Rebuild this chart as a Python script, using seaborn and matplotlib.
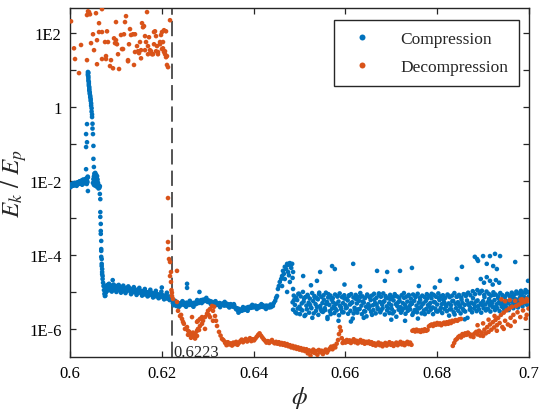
import numpy as np
import pandas as pd
import matplotlib
matplotlib.use("Agg")
import matplotlib.pyplot as plt
import seaborn as sns
from matplotlib.ticker import FixedLocator, FixedFormatter

# ---------------- data: (phi, log10(Ek/Ep)) ----------------
comp_plateau = [
    (0.6000, -2.14), (0.6001, -2.12), (0.6002, -2.15), (0.6003, -2.11), (0.6004, -2.13), (0.6005, -2.10),
    (0.6006, -2.12), (0.6007, -2.09), (0.6008, -2.11), (0.6009, -2.08), (0.6010, -2.10), (0.6011, -2.07),
    (0.6012, -2.09), (0.6013, -2.06), (0.6014, -2.10), (0.6015, -2.05), (0.6016, -2.08), (0.6017, -2.04),
    (0.6018, -2.07), (0.6019, -2.03), (0.6020, -2.06), (0.6021, -2.02), (0.6022, -2.05), (0.6023, -2.04),
    (0.6024, -2.01), (0.6025, -2.06), (0.6026, -2.00), (0.6027, -2.03), (0.6028, -1.98), (0.6029, -2.04),
    (0.6030, -2.01), (0.6031, -1.97), (0.6032, -2.05), (0.6033, -1.99), (0.6034, -1.95), (0.6035, -2.02),
    (0.6036, -1.93), (0.6037, -1.99), (0.6038, -2.03), (0.6039, -1.90),
    (0.60005, -2.17), (0.60025, -2.09), (0.60045, -2.13), (0.60065, -2.06), (0.60085, -2.12), (0.60105, -2.05),
    (0.60125, -2.09), (0.60145, -2.13), (0.60165, -2.04), (0.60185, -2.08), (0.60205, -2.01), (0.60225, -2.07),
    (0.60245, -1.99), (0.60265, -2.10), (0.60285, -1.96), (0.60305, -2.06), (0.60325, -2.02), (0.60345, -1.94),
    (0.60365, -2.08), (0.60385, -1.88), (0.6035, -1.68), (0.6039, -2.27),
]
comp_spike = [
    (0.6035, -1.08), (0.6037, -0.95), (0.6035, -0.73), (0.6037, -0.46), (0.6039, 0.95), (0.6039, 0.90),
    (0.6039, 0.86), (0.6040, 0.93), (0.6040, 0.83), (0.6040, 0.78), (0.6040, 0.72), (0.6041, 0.68),
    (0.6041, 0.63), (0.6041, 0.58), (0.6042, 0.54), (0.6042, 0.49), (0.6042, 0.45), (0.6043, 0.40),
    (0.6043, 0.36), (0.6044, 0.31), (0.6044, 0.27), (0.6045, 0.22), (0.6045, 0.17), (0.6046, 0.10),
    (0.6046, 0.04), (0.6047, -0.03), (0.6047, -0.12), (0.6048, -0.20), (0.6048, -0.27), (0.6049, -0.45),
    (0.6049, -0.58), (0.6050, -0.73), (0.6051, -1.05), (0.6051, -1.40), (0.6052, -1.62),
]
comp_shoulder = [
    (0.6050, -2.05), (0.6051, -1.95), (0.6052, -1.88), (0.6052, -2.10), (0.6053, -1.80), (0.6053, -2.00),
    (0.6054, -1.85), (0.6054, -2.12), (0.6055, -1.78), (0.6055, -1.95), (0.6056, -1.90), (0.6056, -2.05),
    (0.6057, -1.83), (0.6057, -2.00), (0.6058, -1.92), (0.6058, -2.15), (0.6059, -1.87), (0.6059, -2.02),
    (0.6060, -1.96), (0.6060, -2.10), (0.6061, -2.05), (0.6062, -2.20), (0.6063, -2.12), (0.6064, -2.18),
]
comp_drop = [
    (0.6065, -2.14), (0.6065, -2.35), (0.6066, -2.49), (0.6066, -2.84), (0.6066, -2.97), (0.6067, -3.16),
    (0.6067, -3.35), (0.6067, -3.43), (0.6068, -3.62), (0.6068, -3.84), (0.6068, -3.89), (0.6068, -4.05),
    (0.6069, -4.11), (0.6069, -4.24), (0.6069, -4.30), (0.6070, -4.38), (0.6070, -4.46), (0.6070, -4.52),
    (0.6071, -4.57), (0.6071, -4.65), (0.6072, -4.75), (0.6073, -4.84), (0.6074, -4.95), (0.6075, -5.05),
    (0.6076, -5.11),
]
comp_low_plateau = [
    (0.6077, -5.10), (0.6078, -5.02), (0.6079, -4.90), (0.6080, -4.82), (0.6081, -4.86), (0.6082, -4.93),
    (0.6083, -4.80), (0.6084, -4.88), (0.6085, -4.84), (0.6086, -4.95), (0.6087, -4.87), (0.6088, -4.82),
    (0.6089, -4.90), (0.6090, -4.85), (0.6092, -4.92), (0.6093, -4.68), (0.6094, -4.88), (0.6096, -4.83),
    (0.6097, -4.94), (0.6099, -4.86), (0.6100, -4.90), (0.6102, -4.84), (0.6103, -4.96), (0.6105, -4.88),
    (0.6107, -4.92), (0.6108, -4.86), (0.6110, -4.95), (0.6112, -4.89), (0.6113, -4.93), (0.6115, -4.87),
    (0.6117, -4.98), (0.6119, -4.90), (0.6120, -4.94), (0.6122, -4.89), (0.6124, -4.97), (0.6126, -4.91),
    (0.6128, -4.95), (0.6130, -4.90), (0.6132, -5.00), (0.6134, -4.93), (0.6136, -4.97), (0.6138, -4.92),
    (0.6140, -5.01), (0.6142, -4.95), (0.6144, -4.99), (0.6146, -4.94), (0.6148, -5.03), (0.6150, -4.96),
    (0.6152, -5.01), (0.6154, -4.97), (0.6156, -5.05), (0.6158, -4.98), (0.6160, -5.03), (0.6162, -4.99),
    (0.6164, -5.07), (0.6166, -5.00), (0.6168, -5.05), (0.6170, -5.01), (0.6172, -5.09), (0.6174, -5.03),
    (0.6176, -5.07), (0.6178, -5.02), (0.6180, -5.10), (0.6182, -5.04), (0.6184, -5.09), (0.6186, -5.05),
    (0.6188, -5.12), (0.6190, -5.06), (0.6192, -5.10), (0.6194, -5.07), (0.6196, -5.14), (0.6198, -5.08),
    (0.6200, -5.12), (0.6202, -5.09), (0.6204, -5.16), (0.6206, -5.10), (0.6208, -5.14), (0.6210, -5.11),
    (0.6212, -5.18), (0.6214, -5.12), (0.6216, -5.16), (0.6218, -5.13), (0.6220, -5.20), (0.6222, -5.15),
    (0.6081, -4.97), (0.6085, -4.78), (0.6091, -4.99), (0.6095, -4.80), (0.6101, -5.00), (0.6106, -4.81),
    (0.6111, -5.02), (0.6116, -4.83), (0.6121, -5.03), (0.6127, -4.85), (0.6133, -5.06), (0.6139, -4.87),
    (0.6145, -5.08), (0.6151, -4.89), (0.6157, -5.10), (0.6163, -4.92), (0.6169, -5.12), (0.6175, -4.94),
    (0.6181, -5.15), (0.6187, -4.97), (0.6193, -5.17), (0.6199, -4.99), (0.6205, -5.20), (0.6211, -5.02),
    (0.6217, -5.22), (0.6200, -4.88),
]
comp_mid = [
    (0.6224, -5.30), (0.6226, -5.36), (0.6228, -5.28), (0.6230, -5.33), (0.6232, -5.38), (0.6234, -5.29),
    (0.6236, -5.34), (0.6238, -5.31), (0.6240, -5.37), (0.6242, -5.30), (0.6244, -5.33), (0.6246, -5.28),
    (0.6248, -5.35), (0.6250, -5.31), (0.6252, -5.36), (0.6254, -5.29), (0.6256, -5.33), (0.6258, -5.30),
    (0.6260, -5.35), (0.6262, -5.28), (0.6264, -5.32), (0.6266, -5.36), (0.6268, -5.30), (0.6270, -5.34),
    (0.6272, -5.29), (0.6274, -5.33), (0.6276, -5.31), (0.6278, -5.27), (0.6280, -5.30), (0.6282, -5.24),
    (0.6284, -5.27), (0.6286, -5.22), (0.6288, -5.26), (0.6290, -5.21), (0.6292, -5.25), (0.6294, -5.20),
    (0.6296, -5.24), (0.6298, -5.22), (0.6300, -5.27), (0.6302, -5.23), (0.6304, -5.28), (0.6306, -5.25),
    (0.6308, -5.30), (0.6310, -5.27), (0.6312, -5.32), (0.6314, -5.29), (0.6316, -5.33), (0.6318, -5.30),
    (0.6320, -5.35), (0.6322, -5.31), (0.6324, -5.34), (0.6326, -5.30), (0.6328, -5.36), (0.6330, -5.32),
    (0.6332, -5.35), (0.6334, -5.31), (0.6336, -5.37), (0.6338, -5.33), (0.6340, -5.36), (0.6342, -5.32),
    (0.6344, -5.38), (0.6346, -5.34), (0.6348, -5.37), (0.6350, -5.33), (0.6352, -5.39), (0.6354, -5.36),
    (0.6356, -5.40), (0.6358, -5.37), (0.6360, -5.43), (0.6362, -5.47), (0.6364, -5.44), (0.6366, -5.50),
    (0.6368, -5.46), (0.6370, -5.52), (0.6372, -5.48), (0.6374, -5.51), (0.6376, -5.46), (0.6378, -5.49),
    (0.6380, -5.45), (0.6382, -5.48), (0.6384, -5.43), (0.6386, -5.46), (0.6388, -5.41), (0.6390, -5.44),
    (0.6392, -5.40), (0.6394, -5.43), (0.6396, -5.39), (0.6398, -5.42), (0.6400, -5.38), (0.6402, -5.41),
    (0.6404, -5.37), (0.6406, -5.42), (0.6408, -5.39), (0.6410, -5.43), (0.6412, -5.38), (0.6414, -5.41),
    (0.6416, -5.37), (0.6418, -5.40), (0.6420, -5.36), (0.6422, -5.41), (0.6424, -5.38), (0.6426, -5.42),
    (0.6428, -5.37), (0.6430, -5.40), (0.6432, -5.38), (0.6434, -5.42), (0.6436, -5.39), (0.6438, -5.41),
    (0.6440, -5.37), (0.6255, -4.78), (0.6255, -4.89), (0.6282, -5.00),
    (0.6229, -5.24), (0.6237, -5.41), (0.6245, -5.25), (0.6253, -5.40), (0.6261, -5.24), (0.6269, -5.40),
    (0.6277, -5.22), (0.6287, -5.30), (0.6297, -5.16), (0.6307, -5.33), (0.6317, -5.25), (0.6327, -5.41),
    (0.6337, -5.27), (0.6347, -5.42), (0.6357, -5.33), (0.6367, -5.56), (0.6377, -5.41), (0.6387, -5.51),
    (0.6397, -5.35), (0.6407, -5.46), (0.6417, -5.33), (0.6427, -5.46), (0.6437, -5.34),
]
comp_bump = [
    (0.6442, -5.38), (0.6447, -5.24), (0.6451, -5.11), (0.6453, -4.92), (0.6457, -4.73), (0.6462, -4.57),
    (0.6464, -4.43), (0.6468, -4.32), (0.6473, -4.24), (0.6479, -4.22), (0.6484, -4.24), (0.6486, -4.46),
    (0.6486, -4.92), (0.6462, -4.84), (0.6468, -4.65), (0.6475, -4.46), (0.6479, -4.73), (0.6473, -5.00),
    (0.6475, -4.27), (0.6477, -4.24), (0.6481, -4.27), (0.6471, -4.38), (0.6466, -4.51), (0.6460, -4.65),
    (0.6455, -4.84), (0.6449, -5.16), (0.6444, -5.30), (0.6482, -4.35), (0.6477, -4.55), (0.6485, -4.62),
]
comp_band_a = [
    (0.6485, -5.28), (0.6490, -5.35), (0.6495, -5.22), (0.6500, -5.40), (0.6505, -5.31), (0.6510, -5.18),
    (0.6515, -5.37), (0.6520, -5.29), (0.6525, -5.42), (0.6530, -5.25), (0.6535, -5.33), (0.6540, -5.20),
    (0.6545, -5.38), (0.6550, -5.30), (0.6555, -5.44), (0.6560, -5.27), (0.6565, -5.35), (0.6570, -5.21),
    (0.6575, -5.39), (0.6580, -5.32), (0.6585, -5.26), (0.6590, -5.41), (0.6595, -5.30), (0.6600, -5.36),
    (0.6605, -5.23), (0.6610, -5.34), (0.6615, -5.28), (0.6620, -5.43), (0.6625, -5.31), (0.6630, -5.24),
    (0.6635, -5.37), (0.6640, -5.29), (0.6645, -5.40), (0.6650, -5.33), (0.6655, -5.22), (0.6660, -5.36),
    (0.6665, -5.30), (0.6670, -5.42), (0.6675, -5.27), (0.6680, -5.34), (0.6685, -5.25), (0.6690, -5.39),
    (0.6695, -5.31), (0.6700, -5.36), (0.6705, -5.23), (0.6710, -5.33), (0.6715, -5.28), (0.6720, -5.41),
    (0.6725, -5.30), (0.6730, -5.35), (0.6735, -5.26), (0.6740, -5.38), (0.6745, -5.32), (0.6750, -5.24),
    (0.6755, -5.37), (0.6760, -5.29), (0.6765, -5.40), (0.6770, -5.31), (0.6775, -5.25), (0.6780, -5.36),
    (0.6785, -5.30), (0.6790, -5.42), (0.6795, -5.28), (0.6800, -5.34), (0.6805, -5.22), (0.6810, -5.33),
    (0.6815, -5.27), (0.6820, -5.39), (0.6825, -5.31), (0.6830, -5.36), (0.6835, -5.24), (0.6840, -5.32),
    (0.6845, -5.28), (0.6850, -5.40), (0.6855, -5.30), (0.6860, -5.35), (0.6865, -5.23), (0.6870, -5.37),
    (0.6875, -5.29), (0.6880, -5.33), (0.6885, -5.26), (0.6890, -5.38), (0.6895, -5.31), (0.6900, -5.25),
    (0.6905, -5.34), (0.6910, -5.28), (0.6915, -5.36), (0.6920, -5.30), (0.6925, -5.22), (0.6930, -5.33),
    (0.6935, -5.27), (0.6940, -5.35), (0.6945, -5.29), (0.6950, -5.24), (0.6955, -5.31), (0.6960, -5.21),
    (0.6965, -5.28), (0.6970, -5.19), (0.6975, -5.25), (0.6980, -5.16), (0.6985, -5.22), (0.6990, -5.14),
    (0.6995, -5.19), (0.7000, -5.12),
]
comp_band_b = [
    (0.64875, -5.10), (0.64925, -5.15), (0.64975, -5.05), (0.65025, -5.12), (0.65075, -5.00), (0.65125, -5.14),
    (0.65175, -5.08), (0.65225, -5.18), (0.65275, -5.03), (0.65325, -5.11), (0.65375, -5.16), (0.65425, -5.06),
    (0.65475, -5.13), (0.65525, -5.09), (0.65575, -5.02), (0.65625, -5.15), (0.65675, -5.10), (0.65725, -5.17),
    (0.65775, -5.07), (0.65825, -5.12), (0.65875, -5.04), (0.65925, -5.14), (0.65975, -5.09), (0.66025, -5.18),
    (0.66075, -5.11), (0.66125, -5.06), (0.66175, -5.15), (0.66225, -5.08), (0.66275, -5.13), (0.66325, -5.03),
    (0.66375, -5.12), (0.66425, -5.17), (0.66475, -5.07), (0.66525, -5.14), (0.66575, -5.10), (0.66625, -5.05),
    (0.66675, -5.16), (0.66725, -5.09), (0.66775, -5.13), (0.66825, -5.04), (0.66875, -5.11), (0.66925, -5.17),
    (0.66975, -5.08), (0.67025, -5.14), (0.67075, -5.06), (0.67125, -5.12), (0.67175, -5.16), (0.67225, -5.09),
    (0.67275, -5.03), (0.67325, -5.13), (0.67375, -5.10), (0.67425, -5.18), (0.67475, -5.07), (0.67525, -5.12),
    (0.67575, -5.05), (0.67625, -5.15), (0.67675, -5.10), (0.67725, -5.14), (0.67775, -5.06), (0.67825, -5.11),
    (0.67875, -5.17), (0.67925, -5.08), (0.67975, -5.13), (0.68025, -5.04), (0.68075, -5.12), (0.68125, -5.09),
    (0.68175, -5.16), (0.68225, -5.07), (0.68275, -5.14), (0.68325, -5.10), (0.68375, -5.03), (0.68425, -5.13),
    (0.68475, -5.08), (0.68525, -5.15), (0.68575, -5.06), (0.68625, -5.11), (0.68675, -5.02), (0.68725, -5.09),
    (0.68775, -4.98), (0.68825, -5.06), (0.68875, -4.95), (0.68925, -5.04), (0.68975, -4.97), (0.69025, -5.08),
    (0.69075, -4.99), (0.69125, -5.05), (0.69175, -5.10), (0.69225, -5.01), (0.69275, -5.07), (0.69325, -5.12),
    (0.69375, -5.03), (0.69425, -5.09), (0.69475, -5.14), (0.69525, -5.05), (0.69575, -5.11), (0.69625, -5.02),
    (0.69675, -5.08), (0.69725, -4.99), (0.69775, -5.04), (0.69825, -4.97), (0.69875, -5.02), (0.69925, -4.95),
    (0.69975, -5.00),
]
comp_band_c = [
    (0.6486, -5.48), (0.6491, -5.55), (0.6496, -5.45), (0.6501, -5.60), (0.6506, -5.50), (0.6511, -5.65),
    (0.6516, -5.47), (0.6521, -5.56), (0.6526, -5.44), (0.6531, -5.58), (0.6536, -5.51), (0.6541, -5.62),
    (0.6546, -5.46), (0.6551, -5.54), (0.6556, -5.49), (0.6561, -5.68), (0.6566, -5.52), (0.6571, -5.45),
    (0.6576, -5.57), (0.6581, -5.50), (0.6586, -5.63), (0.6591, -5.47), (0.6596, -5.55), (0.6601, -5.44),
    (0.6606, -5.59), (0.6611, -5.51), (0.6616, -5.72), (0.6621, -5.48), (0.6626, -5.56), (0.6631, -5.46),
    (0.6636, -5.60), (0.6641, -5.52), (0.6646, -5.66), (0.6651, -5.45), (0.6656, -5.54), (0.6661, -5.49),
    (0.6666, -5.58), (0.6671, -5.47), (0.6676, -5.55), (0.6681, -5.44), (0.6686, -5.61), (0.6691, -5.50),
    (0.6696, -5.57), (0.6701, -5.46), (0.6706, -5.53), (0.6711, -5.67), (0.6716, -5.48), (0.6721, -5.56),
    (0.6726, -5.45), (0.6731, -5.59), (0.6736, -5.51), (0.6741, -5.47), (0.6746, -5.62), (0.6751, -5.49),
    (0.6756, -5.55), (0.6761, -5.44), (0.6766, -5.58), (0.6771, -5.50), (0.6776, -5.46), (0.6781, -5.54),
    (0.6786, -5.48), (0.6791, -5.60), (0.6796, -5.45), (0.6801, -5.53), (0.6806, -5.49), (0.6811, -5.57),
    (0.6816, -5.46), (0.6821, -5.52), (0.6826, -5.64), (0.6831, -5.47), (0.6836, -5.55), (0.6841, -5.44),
    (0.6846, -5.51), (0.6851, -5.58), (0.6856, -5.46), (0.6861, -5.53), (0.6866, -5.70), (0.6871, -5.48),
    (0.6876, -5.55), (0.6881, -5.45), (0.6886, -5.52), (0.6891, -5.47), (0.6896, -5.56), (0.6901, -5.44),
    (0.6906, -5.50), (0.6911, -5.46), (0.6916, -5.53), (0.6921, -5.41), (0.6926, -5.49), (0.6931, -5.44),
    (0.6936, -5.52), (0.6941, -5.40), (0.6946, -5.47), (0.6951, -5.42), (0.6956, -5.49), (0.6961, -5.38),
    (0.6966, -5.44), (0.6971, -5.36), (0.6976, -5.42), (0.6981, -5.33), (0.6986, -5.39), (0.6991, -5.30),
    (0.6996, -5.35),
]
comp_band_d = [
    (0.6488, -5.22), (0.6494, -5.58), (0.6499, -5.05), (0.6503, -5.47), (0.6509, -5.26), (0.6513, -5.62),
    (0.6518, -5.12), (0.6523, -5.35), (0.6528, -5.70), (0.6533, -5.15), (0.6538, -5.41), (0.6543, -5.02),
    (0.6548, -5.52), (0.6553, -5.21), (0.6558, -5.33), (0.6563, -5.06), (0.6568, -5.60), (0.6573, -5.28),
    (0.6578, -5.45), (0.6583, -5.12), (0.6588, -5.37), (0.6593, -5.55), (0.6598, -5.18), (0.6603, -5.42),
    (0.6608, -5.09), (0.6613, -5.30), (0.6618, -5.58), (0.6623, -5.19), (0.6628, -5.47), (0.6633, -5.13),
    (0.6638, -5.26), (0.6643, -5.53), (0.6648, -5.10), (0.6653, -5.39), (0.6658, -5.62), (0.6663, -5.21),
    (0.6668, -5.34), (0.6673, -5.04), (0.6678, -5.49), (0.6683, -5.27), (0.6688, -5.15), (0.6693, -5.44),
    (0.6698, -5.20), (0.6703, -5.58), (0.6708, -5.11), (0.6713, -5.38), (0.6718, -5.24), (0.6723, -5.51),
    (0.6728, -5.16), (0.6733, -5.43), (0.6738, -5.08), (0.6743, -5.29), (0.6748, -5.56), (0.6753, -5.14),
    (0.6758, -5.45), (0.6763, -5.22), (0.6768, -5.33), (0.6773, -5.60), (0.6778, -5.18), (0.6783, -5.40),
    (0.6788, -5.05), (0.6793, -5.27), (0.6798, -5.52), (0.6803, -5.16), (0.6808, -5.43), (0.6813, -5.20),
    (0.6818, -5.34), (0.6823, -5.09), (0.6828, -5.47), (0.6833, -5.25), (0.6838, -5.61), (0.6843, -5.13),
    (0.6848, -5.36), (0.6853, -5.21), (0.6858, -5.50), (0.6863, -5.07), (0.6868, -5.31), (0.6873, -5.44),
    (0.6878, -5.17), (0.6883, -5.39), (0.6888, -5.23), (0.6893, -5.00), (0.6898, -5.35), (0.6903, -5.14),
    (0.6908, -5.46), (0.6913, -5.19), (0.6918, -5.27), (0.6923, -5.08), (0.6928, -5.40), (0.6933, -5.16),
    (0.6938, -5.30), (0.6943, -5.11), (0.6948, -5.37), (0.6953, -5.06), (0.6958, -5.25), (0.6963, -5.13),
    (0.6968, -5.32), (0.6973, -5.04), (0.6978, -5.21), (0.6983, -5.09), (0.6988, -5.27), (0.6993, -5.02),
    (0.6998, -5.17),
]
comp_outliers = [
    (0.6508, -4.57), (0.6538, -4.70), (0.6545, -4.46), (0.6571, -4.30), (0.6577, -4.38), (0.6617, -4.24),
    (0.6669, -4.43), (0.6686, -4.70), (0.6719, -4.43), (0.6745, -4.35), (0.6806, -4.70), (0.6854, -4.32),
    (0.6882, -4.05), (0.6900, -4.03), (0.6915, -4.03), (0.6937, -4.03), (0.6889, -4.16), (0.6908, -4.24),
    (0.6922, -4.30), (0.6930, -4.38), (0.6970, -4.19), (0.6998, -4.70), (0.6895, -4.65), (0.6902, -4.75),
    (0.6908, -4.60), (0.6915, -4.70), (0.6921, -4.80), (0.6928, -4.68), (0.6935, -4.75), (0.6691, -4.46),
    (0.6843, -4.65), (0.6887, -4.11), (0.6926, -3.97), (0.6598, -4.80), (0.6632, -4.85), (0.6525, -4.82),
    (0.6561, -5.73), (0.6585, -5.78), (0.6612, -5.80), (0.6640, -5.70), (0.6700, -5.75), (0.6730, -5.78),
    (0.6758, -5.72), (0.6860, -5.74), (0.6795, -4.88), (0.6760, -4.84),
]

decomp_high = [
    (0.60022, 2.32), (0.60087, 1.59), (0.60109, 1.30), (0.60196, 0.92), (0.60240, 1.68), (0.60370, 2.49),
    (0.60392, 2.59), (0.60436, 2.51), (0.60370, 1.27), (0.60458, 1.73), (0.60501, 1.97), (0.60523, 1.54),
    (0.60566, 2.54), (0.60588, 1.81), (0.60632, 2.03), (0.60588, 1.16), (0.60697, 2.03), (0.60697, 2.65),
    (0.60697, 1.30), (0.60763, 1.76), (0.60806, 2.05), (0.60828, 1.76), (0.60784, 1.38), (0.60784, 1.30),
    (0.60871, 1.11), (0.60937, 1.05), (0.60959, 1.86), (0.61002, 2.30), (0.61024, 1.70), (0.60980, 1.73),
    (0.61046, 1.43), (0.61068, 1.03), (0.61155, 1.57), (0.61176, 1.97), (0.61220, 2.46), (0.61198, 2.30),
    (0.61264, 1.24), (0.61285, 1.70), (0.61329, 1.95), (0.61373, 1.97), (0.61394, 1.14), (0.61416, 1.49),
    (0.61460, 1.65), (0.61481, 1.51), (0.61525, 1.76), (0.61547, 1.32), (0.61569, 2.27), (0.61612, 2.19),
    (0.61634, 1.92), (0.61678, 2.57), (0.61656, 1.76), (0.61699, 1.65), (0.61721, 1.89), (0.61765, 1.51),
    (0.61808, 1.43), (0.61830, 2.03), (0.61874, 1.92), (0.61895, 1.65), (0.61917, 1.49), (0.61961, 1.76),
    (0.62004, 2.03), (0.62026, 1.59), (0.62048, 1.49), (0.62092, 2.05), (0.62113, 1.38), (0.62113, 1.14),
    (0.62135, 1.08), (0.60414, 2.57), (0.60632, 2.27), (0.60893, 1.27), (0.61002, 1.81), (0.61111, 1.95),
    (0.61133, 1.57), (0.61264, 1.27), (0.61307, 2.11), (0.61416, 1.97), (0.61503, 1.46), (0.61547, 1.54),
    (0.61590, 2.16), (0.61634, 1.54), (0.61699, 1.43), (0.61743, 1.54), (0.61786, 1.43), (0.61830, 1.70),
    (0.61852, 2.05), (0.61874, 1.51), (0.61917, 1.43), (0.61961, 1.70), (0.61983, 1.95), (0.62004, 1.57),
    (0.62026, 1.76), (0.62048, 2.08), (0.62070, 1.51), (0.62070, 1.43), (0.62092, 1.35), (0.62179, 2.35),
]
decomp_drop = [
    (0.62135, -2.46), (0.62135, -3.65), (0.62135, -3.84), (0.62157, -4.11), (0.62179, -4.19), (0.62200, -4.46),
    (0.62179, -4.57), (0.62200, -4.73), (0.62210, -4.95), (0.62220, -5.02), (0.62222, -5.11), (0.62244, -5.19),
    (0.62331, -4.43),
]
decomp_dip = [
    (0.62331, -5.27), (0.62353, -5.51), (0.62397, -5.65), (0.62440, -5.73), (0.62462, -5.81), (0.62549, -5.95),
    (0.62571, -6.05), (0.62614, -6.14), (0.62658, -6.19), (0.62680, -6.19), (0.62723, -6.14), (0.62767, -6.05),
    (0.62789, -6.00), (0.62832, -5.92), (0.62876, -5.86), (0.62898, -5.78), (0.62941, -5.68), (0.62985, -5.59),
    (0.63007, -5.51), (0.63050, -5.46), (0.63094, -5.38), (0.63115, -5.51), (0.63159, -5.65), (0.63181, -5.78),
    (0.63203, -5.92), (0.63246, -6.08), (0.63312, -6.27), (0.63377, -6.35), (0.62789, -5.78), (0.62876, -5.68),
    (0.62941, -6.00), (0.63050, -5.68), (0.63115, -5.78), (0.62767, -6.19), (0.62658, -5.68), (0.62767, -5.81),
    (0.62832, -5.73), (0.62505, -6.00), (0.62571, -6.16), (0.62636, -6.24), (0.62700, -6.22), (0.62745, -6.17),
    (0.62600, -6.08), (0.62680, -6.10), (0.62725, -6.26), (0.62810, -6.03), (0.62420, -5.62), (0.62480, -5.86),
    (0.63140, -5.40), (0.63020, -5.62), (0.63280, -6.18), (0.63340, -6.30),
]
decomp_low = [
    (0.6338, -6.38), (0.6341, -6.44), (0.6344, -6.36), (0.6347, -6.42), (0.6350, -6.39), (0.6353, -6.45),
    (0.6356, -6.37), (0.6359, -6.41), (0.6362, -6.35), (0.6365, -6.43), (0.6368, -6.38), (0.6371, -6.33),
    (0.6374, -6.29), (0.6377, -6.36), (0.6380, -6.31), (0.6383, -6.27), (0.6386, -6.34), (0.6389, -6.30),
    (0.6392, -6.25), (0.6395, -6.33), (0.6398, -6.28), (0.6401, -6.31), (0.6404, -6.26), (0.6407, -6.21),
    (0.6410, -6.16), (0.6413, -6.12), (0.6416, -6.18), (0.6419, -6.23), (0.6422, -6.28), (0.6425, -6.32),
    (0.6428, -6.37), (0.6431, -6.33), (0.6434, -6.38), (0.6437, -6.34), (0.6440, -6.30), (0.6443, -6.36),
    (0.6446, -6.39), (0.6449, -6.35), (0.6452, -6.40), (0.6455, -6.36), (0.6458, -6.42), (0.6461, -6.38),
    (0.6464, -6.43), (0.6467, -6.39), (0.6470, -6.45), (0.6473, -6.41), (0.6476, -6.47), (0.6479, -6.44),
    (0.6482, -6.50), (0.6485, -6.46), (0.6488, -6.52), (0.6491, -6.48), (0.6494, -6.54), (0.6497, -6.50),
    (0.6500, -6.56), (0.6503, -6.52), (0.6506, -6.58), (0.6509, -6.54), (0.6512, -6.60), (0.6515, -6.55),
    (0.6518, -6.66), (0.6521, -6.58), (0.6524, -6.72), (0.6527, -6.62), (0.6530, -6.56), (0.6533, -6.65),
    (0.6536, -6.60), (0.6539, -6.70), (0.6542, -6.57), (0.6545, -6.63), (0.6548, -6.59), (0.6551, -6.68),
    (0.6554, -6.61), (0.6557, -6.56), (0.6560, -6.64), (0.6563, -6.58), (0.6566, -6.53), (0.6569, -6.48),
    (0.6572, -6.55), (0.6575, -6.46), (0.6578, -6.50), (0.6581, -6.40), (0.6584, -6.30), (0.6586, -6.14),
    (0.6588, -5.95), (0.6590, -6.05), (0.6592, -6.25), (0.6594, -6.38), (0.6597, -6.33), (0.6600, -6.37),
    (0.6603, -6.30), (0.6606, -6.35), (0.6609, -6.31), (0.6612, -6.38), (0.6615, -6.33), (0.6618, -6.28),
    (0.6621, -6.36), (0.6624, -6.32), (0.6627, -6.39), (0.6630, -6.34), (0.6633, -6.30), (0.6636, -6.37),
    (0.6639, -6.33), (0.6642, -6.40), (0.6645, -6.35), (0.6648, -6.38), (0.6651, -6.34), (0.6654, -6.40),
    (0.6657, -6.36), (0.6660, -6.43), (0.6663, -6.39), (0.6666, -6.45), (0.6669, -6.41), (0.6672, -6.37),
    (0.6675, -6.44), (0.6678, -6.40), (0.6681, -6.47), (0.6684, -6.42), (0.6687, -6.38), (0.6690, -6.45),
    (0.6693, -6.41), (0.6696, -6.36), (0.6699, -6.43), (0.6702, -6.39), (0.6705, -6.46), (0.6708, -6.41),
    (0.6711, -6.37), (0.6714, -6.44), (0.6717, -6.40), (0.6720, -6.35), (0.6723, -6.42), (0.6726, -6.38),
    (0.6729, -6.44), (0.6732, -6.39), (0.6735, -6.35), (0.6738, -6.41), (0.6741, -6.37), (0.6744, -6.43),
]
decomp_step = [
    (0.6746, -6.05), (0.6749, -6.03), (0.6752, -6.07), (0.6755, -6.02), (0.6758, -6.06), (0.6761, -6.04),
    (0.6764, -6.08), (0.6767, -6.03), (0.6770, -6.06), (0.6773, -6.01), (0.6776, -6.05), (0.6779, -6.03),
    (0.6782, -5.93), (0.6785, -5.90), (0.6788, -5.88), (0.6791, -5.92), (0.6794, -5.86), (0.6797, -5.89),
    (0.6800, -5.84), (0.6803, -5.88), (0.6806, -5.85), (0.6809, -5.90), (0.6812, -5.86), (0.6815, -5.83),
    (0.6818, -5.87), (0.6821, -5.82), (0.6824, -5.86), (0.6827, -5.80), (0.6830, -5.84), (0.6833, -5.78),
    (0.6836, -5.80), (0.6840, -5.76), (0.6844, -5.78), (0.6848, -5.74), (0.6852, -5.73),
]
decomp_rise = [
    (0.6834, -6.46), (0.6837, -6.38), (0.6840, -6.30), (0.6843, -6.27), (0.6846, -6.22), (0.6849, -6.19),
    (0.6852, -6.23), (0.6855, -6.14), (0.6858, -6.18), (0.6861, -6.12), (0.6864, -6.16), (0.6867, -6.10),
    (0.6870, -6.14), (0.6873, -6.20), (0.6876, -6.16), (0.6879, -6.22), (0.6882, -6.12), (0.6885, -6.08),
    (0.6888, -6.15), (0.6891, -6.05), (0.6894, -6.18), (0.6897, -6.10), (0.6900, -6.19), (0.6903, -6.02),
    (0.6906, -6.12), (0.6909, -5.95), (0.6912, -6.08), (0.6915, -5.88), (0.6918, -6.02), (0.6921, -5.82),
    (0.6924, -5.96), (0.6927, -5.76), (0.6930, -5.90), (0.6933, -5.70), (0.6936, -5.84), (0.6939, -5.62),
    (0.6942, -5.95), (0.6945, -5.56), (0.6948, -5.78), (0.6951, -5.50), (0.6954, -5.88), (0.6957, -5.45),
    (0.6960, -5.70), (0.6963, -5.40), (0.6966, -5.62), (0.6969, -5.80), (0.6972, -5.38), (0.6975, -5.55),
    (0.6978, -5.34), (0.6981, -5.68), (0.6984, -5.30), (0.6987, -5.50), (0.6990, -5.27), (0.6993, -5.72),
    (0.6996, -5.25), (0.6999, -5.45), (0.6888, -5.90), (0.6900, -5.85), (0.6912, -5.75), (0.6925, -5.65),
    (0.6940, -5.20), (0.6948, -5.25), (0.6958, -5.22), (0.6970, -5.24), (0.6982, -5.21), (0.6995, -5.19),
    (0.6930, -6.05), (0.6945, -6.00), (0.6960, -5.92), (0.6985, -5.20), (0.6995, -5.62),
]

series_names = ["Compression", "Decompression"]
series_colors = ["#0072BD", "#D95319"]
transition_phi = 0.6223
y_tick_exps = [-6, -5, -4, -3, -2, -1, 0, 1, 2]
y_tick_labels = ["1E-6", "", "1E-4", "", "1E-2", "", "1", "", "1E2"]
x_ticks = [0.60, 0.62, 0.64, 0.66, 0.68, 0.70]
x_tick_labels = ["0.6", "0.62", "0.64", "0.66", "0.68", "0.7"]

comp_all = (comp_plateau + comp_spike + comp_shoulder + comp_drop + comp_low_plateau + comp_mid
            + comp_bump + comp_band_a + comp_band_b + comp_band_c + comp_band_d + comp_outliers)
decomp_all = decomp_high + decomp_drop + decomp_dip + decomp_low + decomp_step + decomp_rise

frames = []
for name, pts in zip(series_names, [comp_all, decomp_all]):
    arr = np.array(pts)
    frames.append(pd.DataFrame({"phi": arr[:, 0], "ratio": 10.0 ** arr[:, 1], "series": name}))
df = pd.concat(frames, ignore_index=True)

# ---------------- plotting ----------------
sns.set_theme(style="ticks")
plt.rcParams["font.family"] = ["Liberation Serif", "DejaVu Serif"]
plt.rcParams["mathtext.fontset"] = "stix"
plt.rcParams["axes.edgecolor"] = "#262626"

fig = plt.figure(figsize=(5.39, 4.10), dpi=100)
ax = fig.add_axes([0.1299, 0.1268, 0.8515, 0.8512])

sns.scatterplot(data=df, x="phi", y="ratio", hue="series", hue_order=series_names,
                palette=dict(zip(series_names, series_colors)), s=11, linewidth=0,
                edgecolor="none", ax=ax, legend=True, zorder=3)

ax.set_yscale("log")
ax.set_xlim(0.6, 0.7)
ax.set_ylim(10 ** -6.76, 10 ** 2.68)

ax.axvline(transition_phi, color="#262626", lw=1.1, dashes=(10, 4), zorder=2)
ax.text(transition_phi + 0.0002, 10 ** -6.62, "0.6223", fontsize=12, ha="left", va="center", color="#262626")

ax.yaxis.set_major_locator(FixedLocator([10.0 ** e for e in y_tick_exps]))
ax.yaxis.set_major_formatter(FixedFormatter(y_tick_labels))
ax.yaxis.set_minor_locator(FixedLocator([]))
ax.set_xticks(x_ticks)
ax.set_xticklabels(x_tick_labels)
ax.tick_params(axis="both", which="major", direction="in", length=4, width=0.9,
               top=True, right=True, labelsize=12, colors="#262626", labelcolor="black", pad=6)
for sp in ax.spines.values():
    sp.set_linewidth(1.0)

ax.set_xlabel(r"$\phi$", fontsize=18, labelpad=2)
ax.set_ylabel(r"$E_k\ /\ E_p$", fontsize=18, labelpad=0)

handles, labels = ax.get_legend_handles_labels()
leg = ax.legend(handles=handles, labels=labels, loc="upper right", bbox_to_anchor=(0.985, 0.975),
                fontsize=12.5, frameon=True, fancybox=False, edgecolor="#262626", framealpha=1,
                markerscale=1.3, borderpad=0.6, labelspacing=0.7, handletextpad=1.2, borderaxespad=0.2)
leg.get_frame().set_linewidth(1.0)

fig.savefig("out.png", dpi=100)
